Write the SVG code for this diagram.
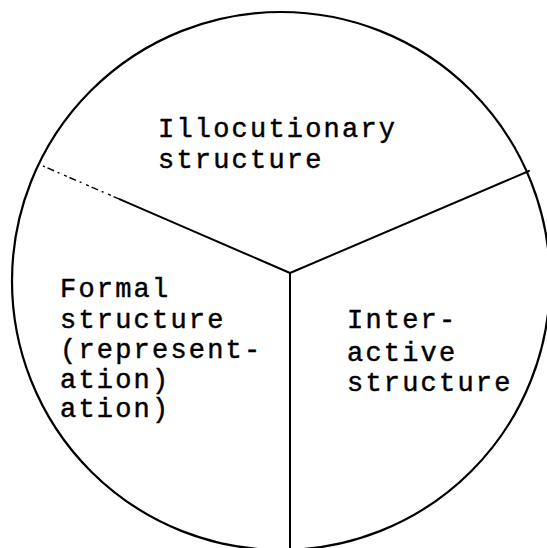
<svg xmlns="http://www.w3.org/2000/svg" width="547" height="548" viewBox="0 0 547 548">
  <style>
    .rim { fill: none; stroke: #000; stroke-width: 2.2; }
    .div { fill: none; stroke: #000; stroke-width: 2; stroke-linecap: round; }
    .faint { fill: none; stroke: #000; stroke-width: 1.4; stroke-dasharray: 7 3 3 5 2 4; }
    .lbl { font-family: "Liberation Mono", "DejaVu Sans Mono", monospace; font-size: 27px; letter-spacing: 2.2px; fill: #000; stroke: #000; stroke-width: 0.45; }
  </style>
  <rect width="547" height="548" fill="#fff"/>

  <!-- outer circle -->
  <g id="circle">
    <circle class="rim" cx="281" cy="281" r="269"/>
  </g>

  <!-- dividing spokes from the centre point -->
  <g id="spokes">
    <line class="div" x1="290" y1="273" x2="120" y2="199.4"/>
    <line class="faint" x1="120" y1="199.4" x2="43" y2="166"/>
    <line class="div" x1="290" y1="273" x2="529" y2="171"/>
    <line class="div" x1="290" y1="273" x2="290" y2="548"/>
  </g>

  <!-- sector labels -->
  <g id="illocutionary">
    <text class="lbl" x="158" y="137">Illocutionary</text>
    <text class="lbl" x="158" y="168">structure</text>
  </g>
  <g id="formal">
    <text class="lbl" x="60" y="297">Formal</text>
    <text class="lbl" x="60" y="328">structure</text>
    <text class="lbl" x="60" y="358">(represent-</text>
    <text class="lbl" x="60" y="388">ation)</text>
    <text class="lbl" x="60" y="417">ation)</text>
  </g>
  <g id="interactive">
    <text class="lbl" x="347" y="328">Inter-</text>
    <text class="lbl" x="347" y="361">active</text>
    <text class="lbl" x="347" y="391">structure</text>
  </g>
</svg>
